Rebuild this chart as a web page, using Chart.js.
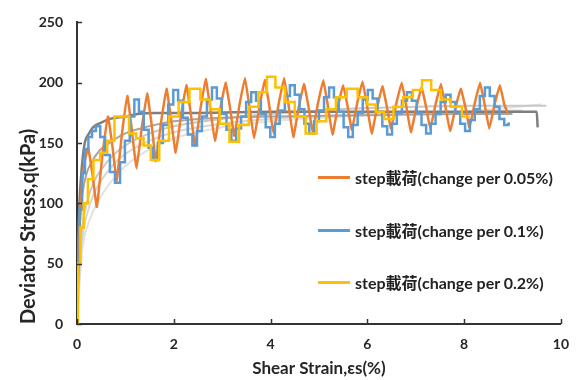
<!DOCTYPE html>
<html><head><meta charset="utf-8">
<script src="https://cdn.jsdelivr.net/npm/chart.js@4.4.0/dist/chart.umd.min.js"></script>
<style>
html,body{margin:0;padding:0;background:#fff;}
#wrap{position:relative;width:581px;height:380px;overflow:hidden;}
#legend{position:absolute;left:0;top:0;font-family:Lato,'Noto Sans CJK TC',sans-serif;font-weight:bold;font-size:16px;color:#222;}
.item{position:absolute;display:flex;align-items:center;white-space:nowrap;height:20px;}
.sw{width:32px;height:3px;margin-right:5px;}
</style></head>
<body><div id="wrap"><canvas id="c" width="581" height="380"></canvas><div id="legend"></div></div>
<script>
// ---------- data ----------
const xTicks = [0, 2, 4, 6, 8, 10];
const yTicks = [0, 50, 100, 150, 200, 250];
const seriesNames = ['step載荷(change per 0.05%)', 'step載荷(change per 0.1%)', 'step載荷(change per 0.2%)'];

const orangeX = [0,0.04,0.1,0.16,0.23,0.32,0.41,0.52,0.64,0.73,0.82,0.93,1.04,1.13,1.23,1.34,1.45,1.54,1.63,1.74,1.85,1.94,2.04,2.15,2.26,2.35,2.44,2.55,2.66,2.75,2.85,2.96,3.07,3.16,3.25,3.36,3.47,3.56,3.66,3.77,3.88,3.97,4.06,4.17,4.28,4.37,4.47,4.58,4.69,4.78,4.87,4.98,5.09,5.18,5.28,5.39,5.50,5.59,5.68,5.79,5.90,5.99,6.09,6.20,6.31,6.40,6.49,6.60,6.71,6.80,6.90,7.01,7.12,7.21,7.30,7.41,7.52,7.61,7.71,7.82,7.93,8.02,8.11,8.22,8.33,8.42,8.52,8.63,8.74,8.83,8.9];
const orangeY = [0,70,115,135,146,124,97,138,172,148,119,158,189,162,129,163,191,166,135,168,195,171,142,173,198,175,148,178,203,180,152,178,200,180,156,182,204,181,154,180,202,182,158,183,204,182,155,179,199,181,160,183,202,182,157,180,198,181,161,183,201,182,158,179,197,181,162,183,200,182,159,179,196,181,162,182,199,181,160,179,195,181,163,183,200,183,162,182,198,182,175];

const blueX = [0,0.03,0.08,0.13,0.2,0.27,0.35,0.43,0.53,0.63,0.73,0.84,0.94,1.04,1.14,1.23,1.33,1.43,1.53,1.62,1.72,1.83,1.94,2.04,2.14,2.24,2.34,2.43,2.53,2.63,2.74,2.84,2.94,3.04,3.14,3.24,3.34,3.44,3.55,3.65,3.75,3.85,3.95,4.04,4.14,4.24,4.35,4.45,4.55,4.65,4.75,4.85,4.95,5.05,5.16,5.26,5.36,5.46,5.56,5.65,5.75,5.85,5.96,6.06,6.16,6.26,6.36,6.46,6.56,6.66,6.77,6.87,6.97,7.07,7.17,7.26,7.36,7.46,7.57,7.67,7.77,7.87,7.97,8.07,8.17,8.27,8.38,8.48,8.58,8.68,8.78,8.88,8.95];
const blueY = [0,50,95,125,145,155,160,164,155,140,126,117,134,152,172,186,176,161,146,136,150,165,182,194,185,171,157,148,160,172,186,196,187,174,161,152,162,172,184,192,185,174,163,155,166,177,189,198,190,178,166,158,168,177,188,196,188,176,163,155,165,175,186,194,187,176,164,157,166,175,185,192,185,175,165,158,166,174,184,190,184,175,166,160,169,178,189,196,189,180,170,165,166];

const yellowX = [0,0.04,0.1,0.18,0.27,0.41,0.55,0.7,0.85,1.0,1.15,1.3,1.45,1.6,1.8,2.0,2.2,2.45,2.65,2.85,3.05,3.25,3.45,3.65,3.85,4.0,4.2,4.4,4.6,4.85,5.05,5.25,5.45,5.7,5.9,6.1,6.25,6.44,6.64,6.84,7.04,7.22,7.42,7.62,7.82,8.09,8.12];
const yellowY = [0,50,80,100,120,136,142,152,172,172,158,154,148,136,152,172,184,195,186,178,166,151,165,180,192,205,196,184,172,158,168,178,188,195,188,182,176,170,180,188,194,202,194,186,180,172,172];

const grayDarkX = [0,0.02,0.05,0.1,0.16,0.25,0.33,0.5,0.68,1.0,1.25,1.6,2.5,4,6,8,9.5,9.52];
const grayDarkY = [0,60,100,130,150,158,163,167,170,172,174,175,175,176,176,176,176,163];
const grayMidX = [0,0.03,0.07,0.12,0.2,0.3,0.47,0.74,1.0,1.5,2,3,4,6,8,9.0];
const grayMidY = [0,55,90,110,125,134,144,152,158,164,168,171,172,173,174,174];
const grayLight1X = [0,0.05,0.1,0.2,0.35,0.5,0.75,1,1.5,2,3,4,5,6,7,8,9,9.7];
const grayLight1Y = [0,50,78,100,118,128,140,148,158,164,170,174,177,179,180,181,181,181];
const grayLight2X = [0,0.05,0.1,0.2,0.35,0.5,0.75,1,1.5,2,3,4,6,8,9.2];
const grayLight2Y = [0,42,68,90,108,119,132,141,152,159,166,170,174,176,177];
const grayLight3X = [0,0.1,0.25,0.5,0.75,1,1.5,2,3,4,6,8,9.6];
const grayLight3Y = [0,58,85,106,120,131,145,154,163,168,173,176,182];

// ---------- chart ----------
const pts = (xs, ys) => xs.map((x, i) => ({x: x, y: ys[i]}));
const TXT = '#262626';
const FONT = 'Lato, "Noto Sans CJK TC", sans-serif';
const colors = ['#ED7D31', '#5B9BD5', '#FFC000'];

function stepSet(label, xs, ys, color, stepped) {
  const d = {label, data: pts(xs, ys), borderColor: color, borderWidth: 2.5, pointRadius: 0, fill: false};
  if (stepped) d.stepped = 'middle'; else d.tension = 0.1;
  return d;
}
function graySet(xs, ys, color, w) {
  return {label: '', data: pts(xs, ys), borderColor: color, borderWidth: w, cubicInterpolationMode: 'monotone', pointRadius: 0, fill: false};
}

const datasets = [
  stepSet(seriesNames[2], yellowX, yellowY, colors[2], true),
  stepSet(seriesNames[1], blueX, blueY, colors[1], true),
  stepSet(seriesNames[0], orangeX, orangeY, colors[0], false),
  graySet(grayDarkX, grayDarkY, '#7f7f7f', 2.5),
  graySet(grayMidX, grayMidY, '#a6a6a6', 2),
  graySet(grayLight1X, grayLight1Y, '#c8c8c8', 2),
  graySet(grayLight2X, grayLight2Y, '#d6d6d6', 2),
  graySet(grayLight3X, grayLight3Y, '#e2e2e2', 2)
];

const inwardTicks = {
  id: 'inwardTicks',
  afterDraw(chart) {
    const {ctx} = chart, x = chart.scales.x, y = chart.scales.y;
    ctx.save();
    ctx.strokeStyle = '#333'; ctx.lineWidth = 1.5;
    xTicks.forEach(v => { const p = Math.round(x.getPixelForValue(v)) + 0.5; ctx.beginPath(); ctx.moveTo(p, y.bottom); ctx.lineTo(p, y.bottom - 5); ctx.stroke(); });
    yTicks.forEach(v => { const p = Math.round(y.getPixelForValue(v)) + 0.5; ctx.beginPath(); ctx.moveTo(x.left, p); ctx.lineTo(x.left + 5, p); ctx.stroke(); });
    ctx.restore();
  }
};

const chart = new Chart(document.getElementById('c'), {
  type: 'line',
  data: {datasets},
  options: {
    responsive: false, animation: false,
    layout: {padding: {left: 0, right: 18, top: 17, bottom: 0}},
    plugins: {legend: {display: false}, tooltip: {enabled: false}},
    scales: {
      x: {
        type: 'linear', min: 0, max: 10,
        afterBuildTicks: s => { s.ticks = xTicks.map(v => ({value: v})); },
        afterFit: s => { s.height = 56; },
        grid: {display: false, drawTicks: false},
        border: {display: true, color: '#333', width: 2},
        ticks: {color: TXT, padding: 12, maxRotation: 0, font: {family: FONT, size: 14, weight: 'bold'}},
        title: {display: true, text: 'Shear Strain,εs(%)', color: TXT, padding: {top: 0, bottom: 1}, font: {family: FONT, size: 17, weight: 'bold'}}
      },
      y: {
        type: 'linear', min: 0, max: 250,
        afterBuildTicks: s => { s.ticks = yTicks.map(v => ({value: v})); },
        afterFit: s => { s.width = 77; },
        grid: {display: false, drawTicks: false},
        border: {display: true, color: '#333', width: 2},
        ticks: {color: TXT, padding: 14, font: {family: FONT, size: 14, weight: 'bold'}},
        title: {display: true, text: 'Deviator Stress,q(kPa)', color: TXT, align: 'start', padding: {top: 17, bottom: 0}, font: {family: FONT, size: 20, weight: 'bold'}}
      }
    }
  },
  plugins: [inwardTicks]
});

// legend inside plot area
const legendPos = [177, 230, 282];
const lg = document.getElementById('legend');
seriesNames.forEach((name, i) => {
  const d = document.createElement('div');
  d.className = 'item';
  d.style.left = '318px';
  d.style.top = (legendPos[i] - 10) + 'px';
  d.innerHTML = '<span class="sw" style="background:' + colors[i] + '"></span><span>' + name + '</span>';
  lg.appendChild(d);
});
</script>
</body></html>
